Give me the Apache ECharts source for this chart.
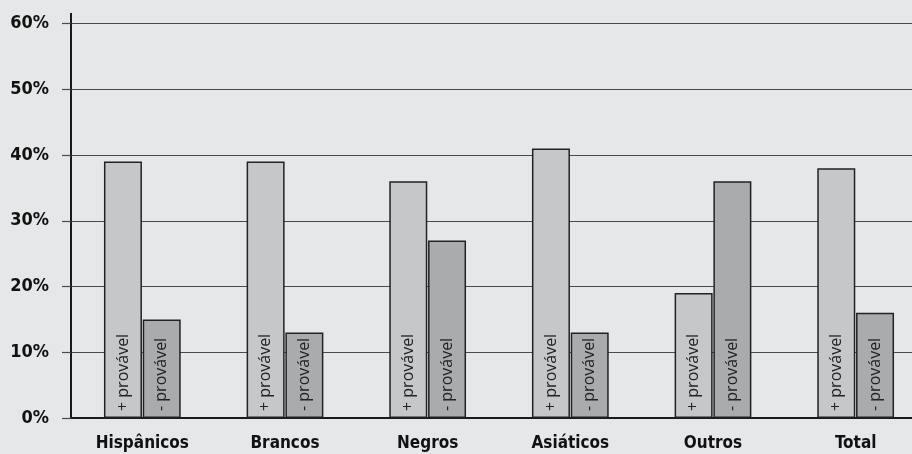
<!DOCTYPE html>
<html>
<head>
<meta charset="utf-8">
<script src="https://cdn.jsdelivr.net/npm/echarts@6/dist/echarts.min.js"></script>
<style>
  html, body { margin: 0; padding: 0; background: #e6e7e9; overflow: hidden; }
  #chart { width: 928px; height: 454px; }
</style>
</head>
<body>
<div id="chart"></div>
<script>
var categories = ["Hispânicos", "Brancos", "Negros", "Asiáticos", "Outros", "Total"];
var maisProvavel = [39, 39, 36, 41, 19, 38];
var menosProvavel = [15, 13, 27, 13, 36, 16];
var yTicks = [0, 10, 20, 30, 40, 50, 60];

var boldFont = "'Liberation Sans Narrow', 'DejaVu Sans Condensed', sans-serif";
var innerFont = "'Open Sans', sans-serif";

// chart is a bit wider than the window, the last band runs off the right edge like the original
var myChart = echarts.init(document.getElementById("chart"));

function innerLabel(text) {
  return {
    show: true,
    position: "insideBottom",
    rotate: 90,
    align: "left",
    verticalAlign: "middle",
    distance: 7,
    formatter: text,
    color: "#222",
    fontFamily: innerFont,
    fontSize: 16,
  };
}

var option = {
  backgroundColor: "#e6e7e9",
  animation: false,
  grid: {
    left: 71,
    top: 23.5,
    right: 1,
    bottom: 36,
  },
  xAxis: {
    type: "category",
    data: categories,
    axisLine: { lineStyle: { color: "#1a1a1a", width: 2 } },
    axisTick: { show: false },
    axisLabel: {
      margin: 17,
      color: "#111",
      fontFamily: boldFont,
      fontWeight: "bold",
      fontSize: 17,
    },
  },
  yAxis: {
    type: "value",
    min: yTicks[0],
    max: yTicks[yTicks.length - 1],
    interval: 10,
    axisLine: { show: true, lineStyle: { color: "#1a1a1a", width: 2 } },
    axisTick: { show: true, length: 9, lineStyle: { color: "#4a4a4a", width: 1.2 } },
    splitLine: { lineStyle: { color: "#4a4a4a", width: 1.2 } },
    axisLabel: {
      margin: 22,
      color: "#111",
      fontFamily: boldFont,
      fontWeight: "bold",
      fontSize: 18,
      formatter: "{value}%",
    },
  },
  graphic: [
    {
      type: "line",
      shape: { x1: 71, y1: 13, x2: 71, y2: 24 },
      style: { stroke: "#1a1a1a", lineWidth: 2 },
    },
  ],
  series: [
    {
      name: "+ provável",
      type: "bar",
      data: maisProvavel,
      barWidth: 38,
      barGap: "2%",
      itemStyle: { color: "#c6c7c9", borderColor: "#222", borderWidth: 1.5 },
      label: innerLabel("+ provável"),
    },
    {
      name: "- provável",
      type: "bar",
      data: menosProvavel,
      barWidth: 38,
      barGap: "2%",
      itemStyle: { color: "#aaabad", borderColor: "#222", borderWidth: 1.5 },
      label: innerLabel("- provável"),
    },
  ],
};
myChart.setOption(option);
</script>
</body>
</html>
